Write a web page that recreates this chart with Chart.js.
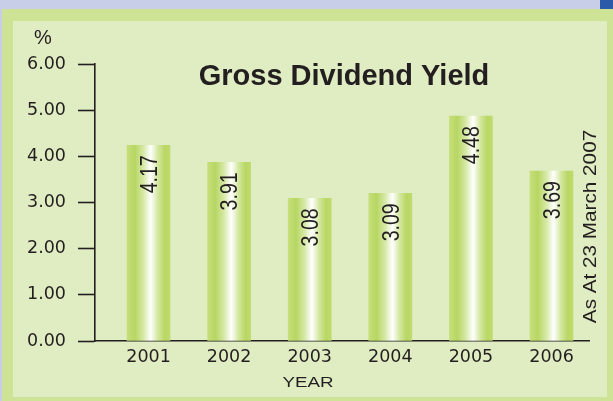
<!DOCTYPE html>
<html>
<head>
<meta charset="utf-8">
<script src="https://cdn.jsdelivr.net/npm/chart.js@4"></script>
<style>
    html, body { margin: 0; padding: 0; background: #c8cde8; }
    canvas { display: block; }
</style>
</head>
<body>
<canvas id="grafica" width="613" height="401"></canvas>
<script>
// data (bar heights as drawn, labels as printed)
const years = [2001, 2002, 2003, 2004, 2005, 2006];
const barHeights = [4.24, 3.87, 3.09, 3.20, 4.87, 3.68];
const printedYields = ['4.17', '3.91', '3.08', '3.09', '4.48', '3.69'];
const yMin = 0;
const yMax = 6;
const yStep = 1;

const chartTitle = 'Gross Dividend Yield';
const unitLabel = '%';
const axisLabel = 'YEAR';
const noteLabel = 'As At 23 March 2007';

const ink = '#231f20';

function barFill(context) {
    const chart = context.chart;
    const xScale = chart.scales.x;
    if (!chart.chartArea || !xScale || !context.parsed) return '#bcd96a';
    const cx = xScale.getPixelForValue(context.parsed.x);
    const g = chart.ctx.createLinearGradient(cx - 21.5, 0, cx + 21.5, 0);
    g.addColorStop(0, '#c6df7a');
    g.addColorStop(0.18, '#b7d662');
    g.addColorStop(0.38, '#d6e9a6');
    g.addColorStop(0.55, '#ffffff');
    g.addColorStop(0.72, '#d3e79e');
    g.addColorStop(0.88, '#b9d764');
    g.addColorStop(1, '#c0db6e');
    return g;
}

// draws text, optionally rotated, stretched along its length by sx
function texto(c, str, x, y, font, align, sx, rotated) {
    c.save();
    c.translate(x, y);
    if (rotated) c.rotate(-Math.PI / 2);
    c.scale(sx, 1);
    c.font = font;
    c.textAlign = align;
    c.textBaseline = 'alphabetic';
    c.fillStyle = ink;
    c.fillText(str, 0, 0);
    c.restore();
}

const decor = {
    id: 'decor',
    beforeDraw(chart) {
        const c = chart.ctx;
        c.save();
        c.fillStyle = '#c8cde8';
        c.fillRect(0, 0, chart.width, chart.height);
        c.fillStyle = '#2a5aa8';
        c.fillRect(600, 0, 13, 9);
        c.fillStyle = '#cfe396';
        c.fillRect(2, 9, 611, 392);
        c.fillStyle = '#e0ecc2';
        c.fillRect(13, 21, 594, 376);
        c.restore();
    },
    afterDraw(chart) {
        const c = chart.ctx;
        const area = chart.chartArea;
        texto(c, chartTitle, (area.left + area.right) / 2 + 2, 85, 'bold 29px "Liberation Sans", Arial, sans-serif', 'center', 1, false);
        texto(c, unitLabel, 43, 44, '20px "Liberation Sans", Arial, sans-serif', 'center', 1, false);
        texto(c, axisLabel, 308, 386.5, '15px "Liberation Sans", Arial, sans-serif', 'center', 1.25, false);
        // note along the right edge
        texto(c, noteLabel, area.right + 6.5, 226.5, '18px "Liberation Sans", Arial, sans-serif', 'center', 1.15, true);

        const meta = chart.getDatasetMeta(0);
        meta.data.forEach((bar, i) => {
            texto(c, printedYields[i], bar.x + 8.3, bar.y + 10, '23px "Liberation Sans", Arial, sans-serif', 'right', 0.85, true);
        });
    }
};

const ctx = document.getElementById('grafica').getContext('2d');
const grafica = new Chart(ctx, {
    type: 'bar',
    data: {
        datasets: [{
            label: chartTitle,
            data: years.map((y, i) => ({ x: y, y: barHeights[i] })),
            backgroundColor: barFill,
            borderWidth: 0,
            barThickness: 43
        }]
    },
    options: {
        responsive: false,
        animation: false,
        devicePixelRatio: 1,
        layout: { padding: { top: 64, right: 24, bottom: 0, left: 0 } },
        plugins: {
            legend: { display: false },
            tooltip: { enabled: false }
        },
        scales: {
            x: {
                type: 'linear',
                offset: false,
                z: 1,
                min: 2000.336,
                max: 2006.465,
                afterBuildTicks: scale => { scale.ticks = years.map(v => ({ value: v })); },
                afterFit: scale => { scale.height = 60; },
                grid: { offset: false, drawOnChartArea: false, drawTicks: false },
                border: { display: true, color: ink, width: 1.6 },
                ticks: {
                    autoSkip: false,
                    maxRotation: 0,
                    padding: 6,
                    color: ink,
                    font: { family: '"DejaVu Sans", sans-serif', size: 17.5 },
                    callback: v => String(v)
                }
            },
            y: {
                min: yMin,
                max: yMax,
                afterFit: scale => { scale.width = 95; },
                grid: { drawOnChartArea: false, tickLength: 17, tickColor: ink, tickWidth: 1.6 },
                border: { display: true, color: ink, width: 1.6 },
                ticks: {
                    stepSize: yStep,
                    padding: 12,
                    color: ink,
                    font: { family: '"DejaVu Sans", sans-serif', size: 17.5 },
                    callback: v => v.toFixed(2)
                }
            }
        }
    },
    plugins: [decor]
});
</script>
</body>
</html>
